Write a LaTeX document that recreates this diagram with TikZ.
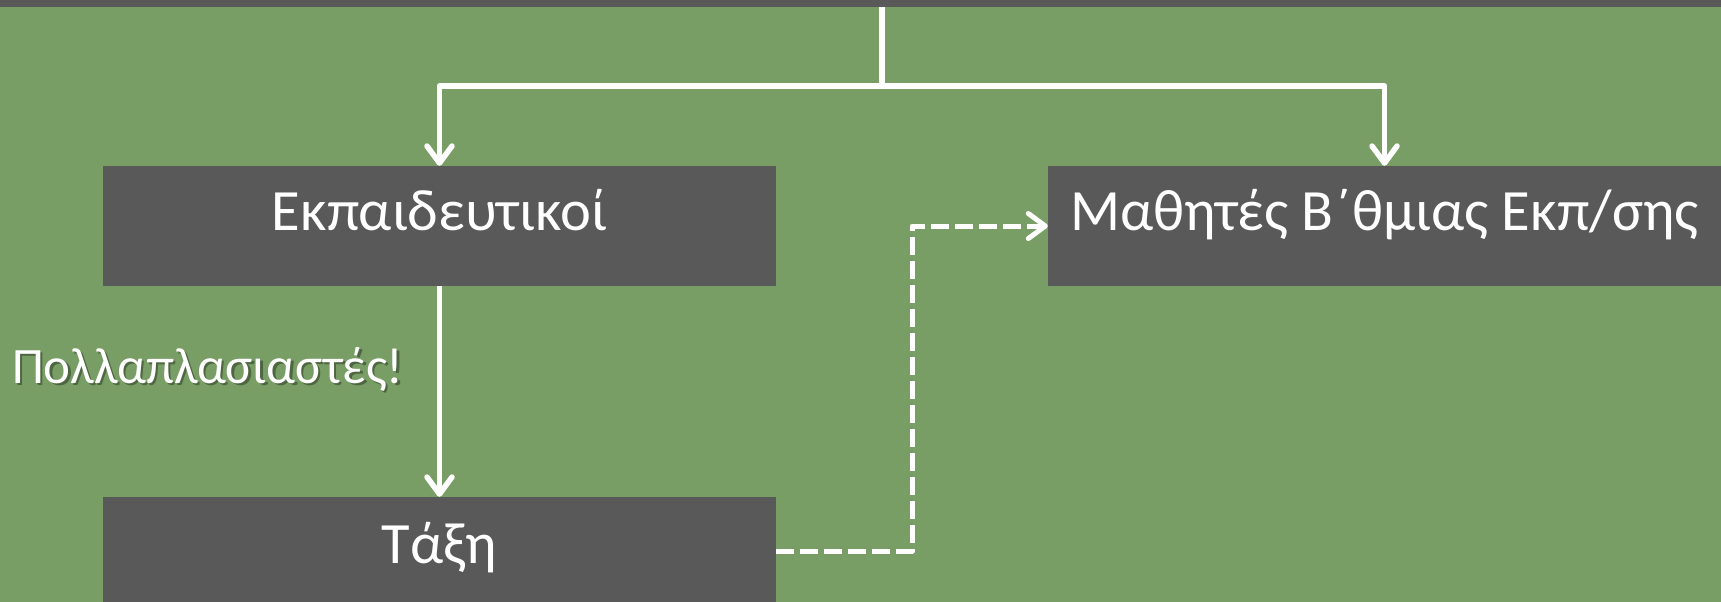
\documentclass[tikz,border=0pt]{standalone}
\usepackage{fontspec}
\setmainfont{Carlito}
\usetikzlibrary{arrows.meta}
\definecolor{bg}{RGB}{120,158,101}
\definecolor{boxgray}{RGB}{89,89,89}
\begin{document}
\begin{tikzpicture}[x=1pt,y=-1pt,
  box/.style={fill=boxgray, text=white, inner sep=0pt, minimum width=673pt, text height=64pt, text depth=56pt, font=\fontsize{58.5}{62}\selectfont},
  bar/.style={fill=boxgray, inner sep=0pt, minimum width=1721pt, minimum height=7pt},
  tip/.style={-{Straight Barb[length=17pt,width=25pt,line cap=round,line join=round]}},
  conn/.style={draw=white, line width=5.5pt, line join=round, tip},
  dconn/.style={conn, line width=5pt, dash pattern=on 18pt off 6pt},
  lbl/.style={text=white, inner sep=0pt, anchor=base west, font=\fontsize{51}{55}\selectfont},
  shadowlbl/.style={lbl, text=black, opacity=0.35}
]
\useasboundingbox (0,0) rectangle (1721,602);
\fill[bg] (0,0) rectangle (1721,602);
\node[bar, anchor=north west] (top) at (0,0) {};
\node[box] (teach) at (439.5,226) {Εκπαιδευτικοί};
\node[box] (stud) at (1384.5,226) {Μαθητές Β΄θμιας Εκπ/σης};
\node[box, text height=66pt, text depth=42pt] (class) at (439.5,551) {Τάξη};
\coordinate (j) at (882,86);
\coordinate (bend) at (912,551);
\node[shadowlbl] (multsh) at (14.5,385.5) {Πολλαπλασιαστές!};
\node[lbl] (mult) at (12,383) {Πολλαπλασιαστές!};
\draw[draw=white, line width=5.5pt] (top.south -| j) -- (j);
\draw[conn] (j) -| (teach.north);
\draw[conn] (j) -| (stud.north);
\draw[conn] (teach.south) -- (class.north);
\draw[dconn] (class.east) -- (bend) |- (stud.west);
\end{tikzpicture}
\end{document}
